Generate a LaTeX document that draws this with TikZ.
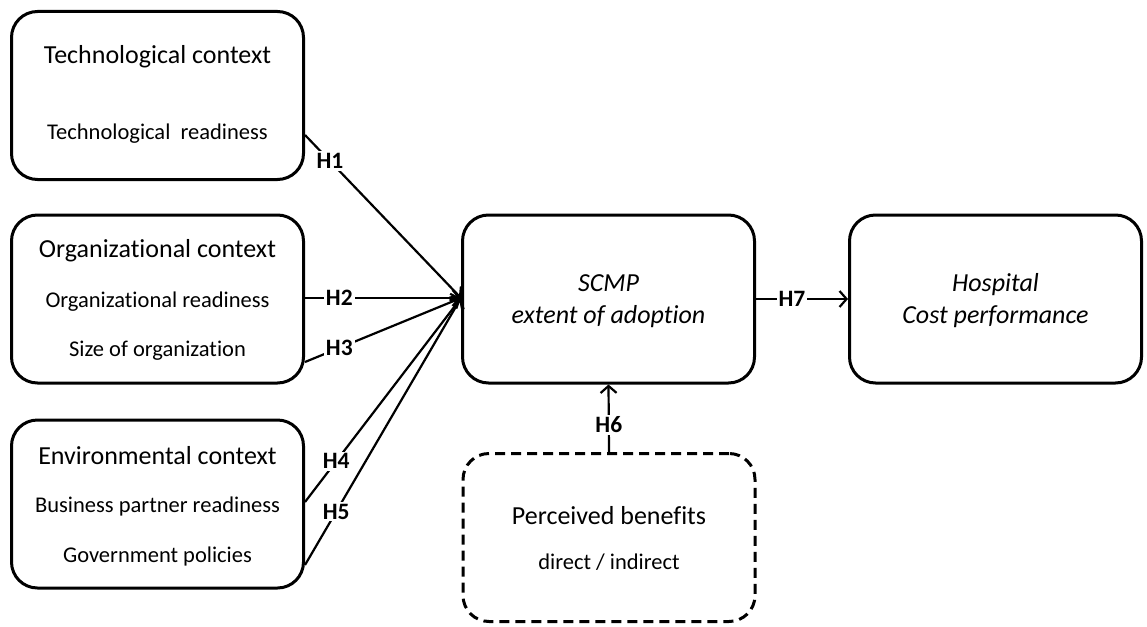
\documentclass[tikz,border=0pt]{standalone}
\usepackage{fontspec}
\setmainfont[Ligatures=NoCommon]{Carlito}
\usetikzlibrary{arrows.meta}

\tikzset{
  ctxbox/.style={draw,line width=3pt,rounded corners=26pt,minimum width=292pt,minimum height=168pt},
  dashbox/.style={ctxbox,dash pattern=on 10pt off 6pt},
  ttl/.style={font=\fontsize{26}{30}\selectfont},
  sub/.style={font=\fontsize{22.5}{26}\selectfont},
  hlab/.style={fill=white,inner sep=2pt,font=\fontsize{23.5}{27}\selectfont\bfseries},
  hyp/.style={->,line width=2.2pt},
  >={Straight Barb[length=7pt,width=16pt]}
}

\begin{document}
\begin{tikzpicture}[x=1pt,y=-1pt]
\useasboundingbox (0,0) rectangle (1147,626);
% boxes
\node[ctxbox] (tech) at (157.5,95.5) {};
\node[ctxbox] (org) at (157.5,299) {};
\node[ctxbox] (env) at (157.5,504) {};
\node[ctxbox] (scmp) at (608.5,299) {};
\node[ctxbox] (hosp) at (995.5,299) {};
\node[dashbox] (perc) at (609,537.5) {};
% texts
\node[ttl] (techttl) at (157.5,57) {Technological context};
\node[sub] (techsub) at (157.5,134) {Technological~ readiness};
\node[ttl] (orgttl) at (157.5,251) {Organizational context};
\node[sub] (orgsub1) at (157.5,302) {Organizational readiness};
\node[sub] (orgsub2) at (157.5,351) {Size of organization};
\node[ttl] (envttl) at (157.5,456) {Environmental context};
\node[sub] (envsub1) at (157.5,506) {Business partner readiness};
\node[sub] (envsub2) at (157.5,556) {Government policies};
\node[ttl,align=center] (scmpttl) at (608.5,301) {\itshape SCMP\\[2pt]\itshape extent of adoption};
\node[ttl,align=center] (hospttl) at (995.5,301) {\itshape Hospital\\[2pt]\itshape Cost performance};
\node[ttl] (percttl) at (609,516) {Perceived benefits};
\node[sub] (percsub) at (609,562) {direct / indirect};
% hypotheses
\coordinate (in) at (461,298);
\coordinate (h1s) at (305,135);
\coordinate (h2s) at (305,298);
\coordinate (h3s) at (305,362);
\coordinate (h4s) at (305,502);
\coordinate (h5s) at (305,565);
\draw[hyp] (h1s) -- node[hlab,pos=0.16] (h1) {H1} (in);
\draw[hyp] (h2s) -- node[hlab,pos=0.22] (h2) {H2} (in);
\draw[hyp] (h3s) -- node[hlab,pos=0.22] (h3) {H3} (in);
\draw[hyp] (h4s) -- node[hlab,pos=0.2] (h4) {H4} (in);
\draw[hyp] (h5s) -- node[hlab,pos=0.2] (h5) {H5} (in);
\draw[hyp] (perc.north) -- node[hlab,pos=0.4] (h6) {H6} (scmp.south);
\draw[hyp] (scmp.east) -- node[hlab,pos=0.39] (h7) {H7} (hosp.west);
\end{tikzpicture}
\end{document}
